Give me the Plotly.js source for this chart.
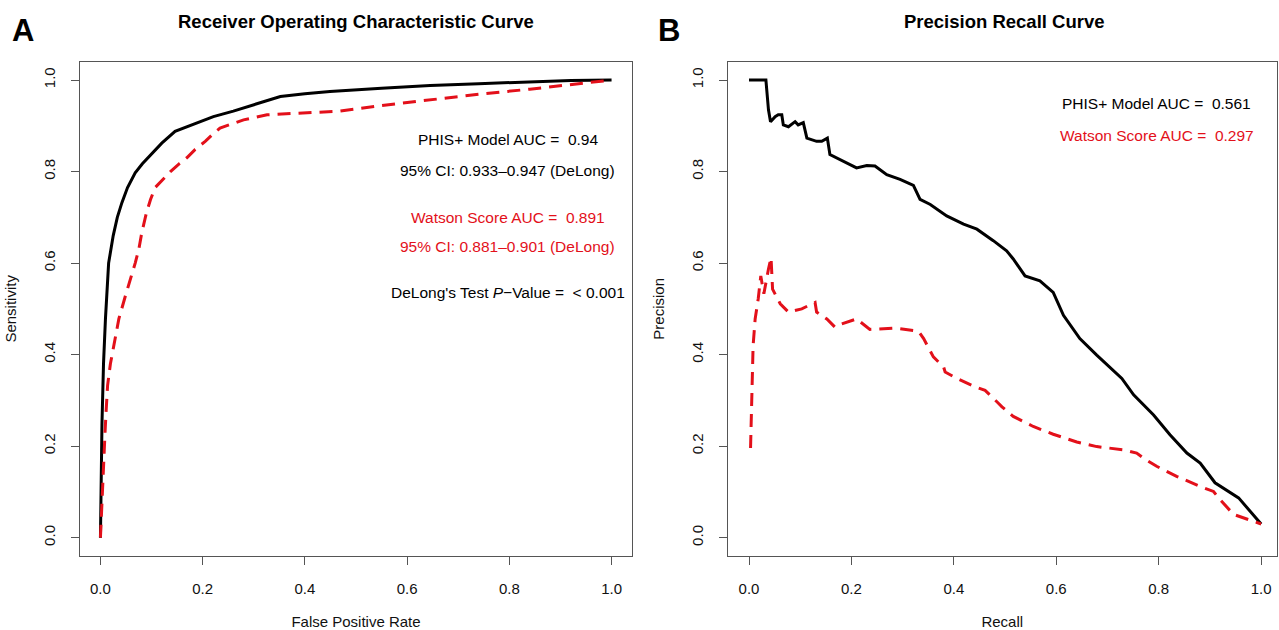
<!DOCTYPE html>
<html>
<head>
<meta charset="utf-8">
<script src="https://cdn.plot.ly/plotly-3.0.1.min.js"></script>
<style>html,body{margin:0;padding:0;background:#fff;}#chart{width:1279px;height:630px;}</style>
</head>
<body>
<div id="chart"></div>
<script>
// ROC: PHIS+ Model
const rocPhisFpr  = [0,0.001,0.003,0.006,0.0098,0.016,0.025,0.033,0.042,0.053,0.068,0.082,0.098,0.12,0.146,0.18,0.221,0.26,0.30,0.33,0.352,0.40,0.449,0.55,0.645,0.74,0.84,0.92,1];
const rocPhisSens = [0,0.1,0.25,0.38,0.478,0.60,0.66,0.70,0.732,0.765,0.797,0.817,0.835,0.862,0.888,0.902,0.920,0.932,0.946,0.955,0.964,0.970,0.975,0.982,0.988,0.992,0.996,0.999,1];
// ROC: Watson Score
const rocWatsonFpr  = [0,0.002,0.004,0.0065,0.009,0.011,0.014,0.0195,0.028,0.036,0.049,0.059,0.068,0.075,0.081,0.09,0.098,0.107,0.12,0.137,0.155,0.169,0.185,0.205,0.22,0.234,0.28,0.326,0.416,0.469,0.547,0.645,0.742,0.84,0.9375,1];
const rocWatsonSens = [0,0.06,0.12,0.174,0.23,0.275,0.333,0.38,0.431,0.478,0.529,0.565,0.60,0.63,0.667,0.71,0.739,0.765,0.78,0.80,0.818,0.83,0.848,0.866,0.882,0.895,0.913,0.924,0.929,0.932,0.944,0.957,0.969,0.98,0.993,1];
// PR: PHIS+ Model
const prPhisRecall    = [0,0.033,0.038,0.042,0.051,0.057,0.064,0.067,0.077,0.090,0.096,0.106,0.113,0.132,0.142,0.153,0.158,0.171,0.191,0.210,0.230,0.246,0.269,0.295,0.321,0.334,0.354,0.386,0.419,0.445,0.477,0.503,0.516,0.539,0.568,0.594,0.614,0.646,0.679,0.728,0.751,0.790,0.822,0.855,0.881,0.910,0.956,0.992,1];
const prPhisPrecision = [1,1,0.935,0.909,0.920,0.924,0.924,0.902,0.898,0.909,0.902,0.907,0.873,0.866,0.866,0.873,0.837,0.830,0.819,0.808,0.813,0.812,0.793,0.783,0.770,0.739,0.728,0.703,0.685,0.674,0.649,0.627,0.609,0.572,0.561,0.536,0.486,0.435,0.399,0.348,0.312,0.268,0.225,0.185,0.163,0.120,0.087,0.040,0.03];
// PR: Watson Score
const prWatsonRecall    = [0.003,0.005,0.008,0.012,0.018,0.023,0.029,0.038,0.043,0.046,0.061,0.077,0.103,0.129,0.132,0.152,0.168,0.181,0.210,0.236,0.285,0.331,0.341,0.360,0.380,0.383,0.406,0.441,0.461,0.484,0.494,0.516,0.555,0.594,0.640,0.679,0.731,0.757,0.770,0.796,0.835,0.881,0.907,0.920,0.946,0.979,1];
const prWatsonPrecision = [0.196,0.304,0.42,0.478,0.522,0.572,0.533,0.587,0.612,0.543,0.511,0.493,0.5,0.514,0.493,0.478,0.460,0.467,0.478,0.455,0.458,0.451,0.435,0.395,0.373,0.362,0.348,0.330,0.322,0.297,0.286,0.265,0.243,0.226,0.209,0.199,0.192,0.185,0.174,0.156,0.134,0.112,0.101,0.083,0.051,0.038,0.03];

const tickVals = [0,0.2,0.4,0.6,0.8,1.0];
const tickText = ['0.0','0.2','0.4','0.6','0.8','1.0'];
const panelTitles = ['Receiver Operating Characteristic Curve','Precision Recall Curve'];
const panelLetters = ['A','B'];
const xTitles = ['False Positive Rate','Recall'];
const yTitles = ['Sensitivity','Precision'];

const FONT = 'Liberation Sans, Arial, Helvetica, sans-serif';
const W = 1279, H = 630;
const black = '#000000', red = '#e3101a', boxCol = '#555555';

const traces = [
  {x: rocPhisFpr, y: rocPhisSens, xaxis:'x', yaxis:'y', mode:'lines', line:{color:black, width:3}, name:'PHIS+ Model'},
  {x: rocWatsonFpr, y: rocWatsonSens, xaxis:'x', yaxis:'y', mode:'lines', line:{color:red, width:3, dash:'13px,8px'}, name:'Watson Score'},
  {x: prPhisRecall, y: prPhisPrecision, xaxis:'x2', yaxis:'y2', mode:'lines', line:{color:black, width:3}, name:'PHIS+ Model'},
  {x: prWatsonRecall, y: prWatsonPrecision, xaxis:'x2', yaxis:'y2', mode:'lines', line:{color:red, width:3, dash:'13px,8px'}, name:'Watson Score'}
];

function xax(domain, range, title){
  return {domain: domain, range: range, tickvals: tickVals, ticktext: tickText, ticks:'outside', ticklen:8, tickcolor:boxCol,
    showline:true, mirror:true, linecolor:boxCol, linewidth:1, showgrid:false, zeroline:false, fixedrange:true,
    tickfont:{family:FONT, size:15, color:'#111'}, ticklabelstandoff:11,
    title:{text:title, font:{family:FONT, size:15, color:'#111'}, standoff:20}};
}
function yax(domain, range, title, anchor){
  return {domain: domain, range: range, anchor: anchor, tickvals: tickVals, ticktext: tickText, ticks:'outside', ticklen:8, tickcolor:boxCol,
    showline:true, mirror:true, linecolor:boxCol, linewidth:1, showgrid:false, zeroline:false, fixedrange:true, tickangle:-90,
    tickfont:{family:FONT, size:15, color:'#111'}, ticklabelstandoff:10,
    title:{text:title, font:{family:FONT, size:15, color:'#111'}, standoff:20}};
}

const yDom = [74/H, 568.3/H];
const layout = {
  width: W, height: H, margin:{l:0, r:0, t:0, b:0}, showlegend:false,
  paper_bgcolor:'#fff', plot_bgcolor:'#fff',
  xaxis: Object.assign(xax([80/W, 632/W], [-0.04, 1.04], xTitles[0]), {anchor:'y'}),
  yaxis: yax(yDom, [-0.04, 1.04], yTitles[0], 'x'),
  xaxis2: Object.assign(xax([727.5/W, 1277/W], [-0.042, 1.031], xTitles[1]), {anchor:'y2'}),
  yaxis2: yax(yDom, [-0.04, 1.04], yTitles[1], 'x2'),
  annotations: [
    {xref:'paper', yref:'paper', x:356/W, y:1-22/H, text:'<b>'+panelTitles[0]+'</b>', showarrow:false, font:{family:FONT, size:18.5, color:'#000'}, xanchor:'center', yanchor:'middle'},
    {xref:'paper', yref:'paper', x:1004/W, y:1-22/H, text:'<b>'+panelTitles[1]+'</b>', showarrow:false, font:{family:FONT, size:18.5, color:'#000'}, xanchor:'center', yanchor:'middle'},
    {xref:'paper', yref:'paper', x:23/W, y:1-30/H, text:'<b>'+panelLetters[0]+'</b>', showarrow:false, font:{family:FONT, size:31, color:'#000'}, xanchor:'center', yanchor:'middle'},
    {xref:'paper', yref:'paper', x:669/W, y:1-30/H, text:'<b>'+panelLetters[1]+'</b>', showarrow:false, font:{family:FONT, size:31, color:'#000'}, xanchor:'center', yanchor:'middle'},
    {xref:'x', yref:'y', x:0.797, y:0.870, text:'PHIS+ Model AUC =  0.94', showarrow:false, font:{family:FONT, size:15.5, color:'#000'}},
    {xref:'x', yref:'y', x:0.797, y:0.802, text:'95% CI: 0.933–0.947 (DeLong)', showarrow:false, font:{family:FONT, size:15.5, color:'#000'}},
    {xref:'x', yref:'y', x:0.797, y:0.700, text:'Watson Score AUC =  0.891', showarrow:false, font:{family:FONT, size:15.5, color:red}},
    {xref:'x', yref:'y', x:0.797, y:0.637, text:'95% CI: 0.881–0.901 (DeLong)', showarrow:false, font:{family:FONT, size:15.5, color:red}},
    {xref:'x', yref:'y', x:0.797, y:0.535, text:"DeLong's Test <i>P</i>−Value =  < 0.001", showarrow:false, font:{family:FONT, size:15.5, color:'#000'}},
    {xref:'x2', yref:'y2', x:0.796, y:0.948, text:'PHIS+ Model AUC =  0.561', showarrow:false, font:{family:FONT, size:15.5, color:'#000'}},
    {xref:'x2', yref:'y2', x:0.796, y:0.878, text:'Watson Score AUC =  0.297', showarrow:false, font:{family:FONT, size:15.5, color:red}}
  ]
};

Plotly.newPlot('chart', traces, layout, {displayModeBar:false, staticPlot:true});
</script>
</body>
</html>
